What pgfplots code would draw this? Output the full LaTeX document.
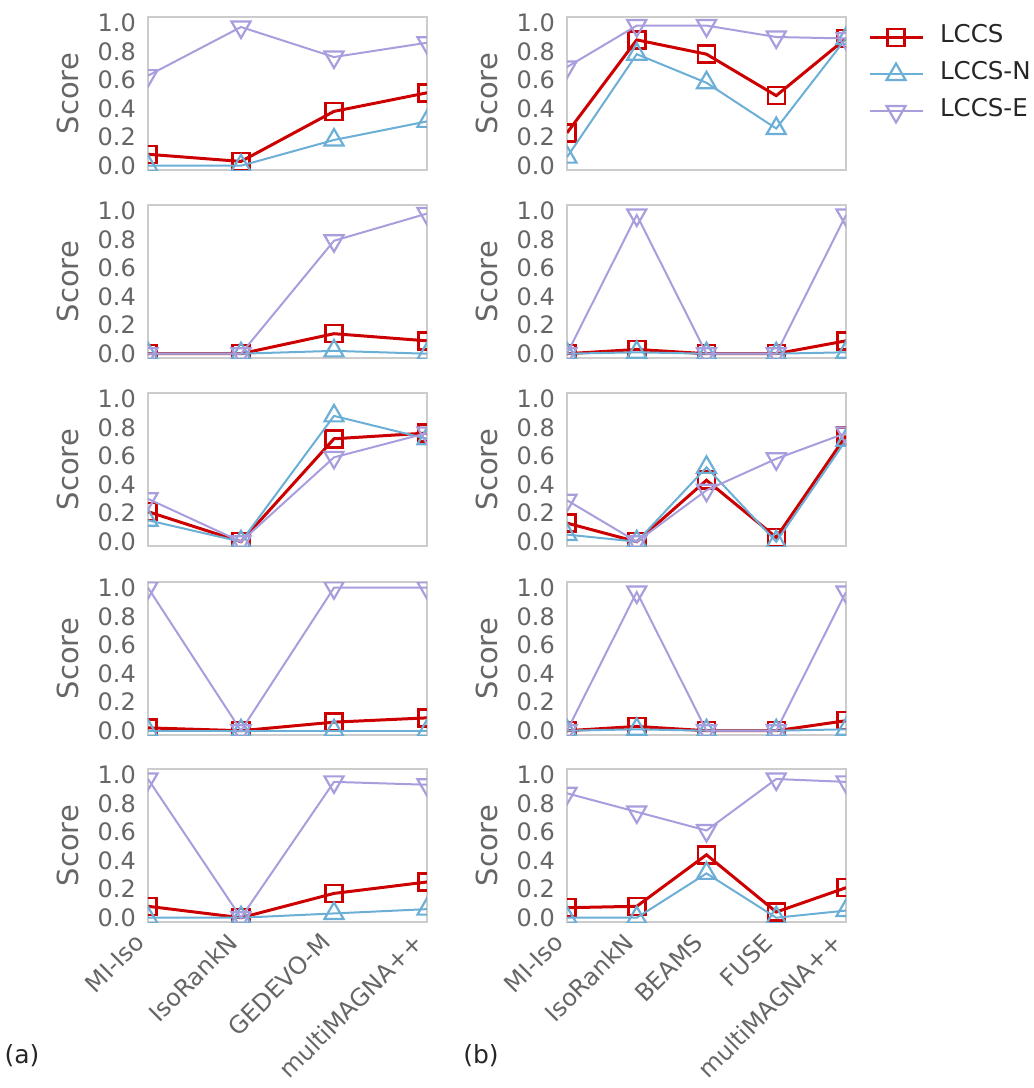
\documentclass[border=0pt]{standalone}
\usepackage{fontspec}
\setmainfont{DejaVu Sans}
\usepackage{pgfplots}
\usepackage{pgfplotstable}
\pgfplotsset{compat=1.18}

\definecolor{cL}{RGB}{204,0,0}
\definecolor{cN}{RGB}{107,174,214}
\definecolor{cE}{RGB}{168,158,222}
\definecolor{framec}{RGB}{204,204,204}
\definecolor{tickc}{RGB}{102,102,102}
\definecolor{textc}{RGB}{38,38,38}

% left column: MI-Iso, IsoRankN, GEDEVO-M, multiMAGNA++
\pgfplotstableread{
x lccs lccsn lccse
0 0.08 0.00 0.63
1 0.03 0.00 0.97
2 0.38 0.18 0.76
3 0.51 0.31 0.86
}\La
\pgfplotstableread{
x lccs lccsn lccse
0 0.00 0.00 0.00
1 0.00 0.00 0.00
2 0.14 0.02 0.79
3 0.09 0.00 0.98
}\Lb
\pgfplotstableread{
x lccs lccsn lccse
0 0.21 0.15 0.30
1 0.00 0.00 0.00
2 0.72 0.88 0.59
3 0.76 0.72 0.76
}\Lc
\pgfplotstableread{
x lccs lccsn lccse
0 0.02 0.00 1.00
1 0.00 0.00 0.00
2 0.06 0.00 1.00
3 0.09 0.00 1.00
}\Ld
\pgfplotstableread{
x lccs lccsn lccse
0 0.08 0.00 0.97
1 0.00 0.00 0.00
2 0.17 0.03 0.95
3 0.25 0.06 0.93
}\Le
% right column: MI-Iso, IsoRankN, BEAMS, FUSE, multiMAGNA++
\pgfplotstableread{
x lccs lccsn lccse
0 0.23 0.06 0.69
1 0.88 0.78 0.98
2 0.78 0.58 0.98
3 0.49 0.26 0.90
4 0.89 0.89 0.89
}\Ra
\pgfplotstableread{
x lccs lccsn lccse
0 0.00 0.00 0.00
1 0.03 0.01 0.97
2 0.00 0.00 0.00
3 0.00 0.00 0.00
4 0.09 0.01 0.97
}\Rb
\pgfplotstableread{
x lccs lccsn lccse
0 0.13 0.05 0.29
1 0.00 0.00 0.00
2 0.43 0.52 0.36
3 0.03 0.00 0.58
4 0.74 0.71 0.76
}\Rc
\pgfplotstableread{
x lccs lccsn lccse
0 0.00 0.00 0.00
1 0.03 0.01 0.97
2 0.00 0.00 0.00
3 0.00 0.00 0.00
4 0.07 0.01 0.97
}\Rd
\pgfplotstableread{
x lccs lccsn lccse
0 0.07 0.00 0.87
1 0.08 0.00 0.74
2 0.44 0.31 0.61
3 0.04 0.00 0.97
4 0.21 0.05 0.95
}\Re

\pgfplotsset{
  panel/.style={
    scale only axis, width=279pt, height=153pt, anchor=north west,
    ymin=-0.03, ymax=1.04, ytick={0,0.2,0.4,0.6,0.8,1.0},
    /pgf/number format/assume math mode=true,
    yticklabel style={/pgf/number format/fixed, /pgf/number format/fixed zerofill,
      /pgf/number format/precision=1, inner sep=0pt, xshift=-12pt},
    tick label style={font=\fontsize{24}{28}\selectfont, text=tickc},
    major tick length=0pt,
    axis line style={framec, line width=2.5pt},
    ylabel={Score},
    ylabel style={font=\fontsize{29}{32}\selectfont, text=tickc,
      at={(axis description cs:-0.287,0.5)}, anchor=center},
    clip marker paths=true,
  },
  leftcol/.style={panel, xmin=0, xmax=3, xtick={0,1,2,3}, xticklabels={}},
  rightcol/.style={panel, xmin=0, xmax=4, xtick={0,1,2,3,4}, xticklabels={}},
  rotlab/.style={x tick label style={inner sep=0pt, xshift=-8pt, yshift=-16pt, rotate=45, anchor=east}},
  sL/.style={cL, line width=3pt, mark=square, mark size=8.5pt, mark options={line width=2.5pt}},
  sN/.style={cN, line width=2pt, mark=triangle, mark size=11pt, mark options={line width=2.2pt}},
  sE/.style={cE, line width=2pt, mark=triangle, mark size=11pt, mark options={rotate=180, line width=2.2pt}},
}

\newcommand{\three}[1]{%
  \addplot[sL] table[x=x,y=lccs]{#1};
  \addplot[sN] table[x=x,y=lccsn]{#1};
  \addplot[sE] table[x=x,y=lccse]{#1};
}

\begin{document}
\begin{tikzpicture}
\path[use as bounding box] (0pt,0pt) rectangle (1034pt,-1088pt);

\begin{axis}[leftcol, at={(148pt,-17pt)}]
\three{\La}
\end{axis}
\begin{axis}[leftcol, at={(148pt,-205pt)}]
\three{\Lb}
\end{axis}
\begin{axis}[leftcol, at={(148pt,-393pt)}]
\three{\Lc}
\end{axis}
\begin{axis}[leftcol, at={(148pt,-582pt)}]
\three{\Ld}
\end{axis}
\begin{axis}[leftcol, at={(148pt,-769pt)}, rotlab,
  xticklabels={MI-Iso,IsoRankN,GEDEVO-M,multiMAGNA++}]
\three{\Le}
\end{axis}

\begin{axis}[rightcol, at={(567pt,-17pt)},
  legend style={at={(rel axis cs:1.079,0.987)}, anchor=north west, draw=none, fill=none,
    inner sep=0pt, outer sep=0pt, row sep=0pt,
    font=\fontsize{24.5}{28}\selectfont, text=textc,
    nodes={inner sep=0pt, text height=24pt, text depth=13pt}},
  legend cell align=left,
  legend image code/.code={%
    \draw[mark repeat=2, mark phase=2, #1] plot coordinates {(0pt,0pt) (26.5pt,0pt) (53pt,0pt)};
    \path (69pt,0pt);}]
\three{\Ra}
\legend{LCCS,LCCS-N,LCCS-E}
\end{axis}
\begin{axis}[rightcol, at={(567pt,-205pt)}]
\three{\Rb}
\end{axis}
\begin{axis}[rightcol, at={(567pt,-393pt)}]
\three{\Rc}
\end{axis}
\begin{axis}[rightcol, at={(567pt,-582pt)}]
\three{\Rd}
\end{axis}
\begin{axis}[rightcol, at={(567pt,-769pt)}, rotlab,
  xticklabels={MI-Iso,IsoRankN,BEAMS,FUSE,multiMAGNA++}]
\three{\Re}
\end{axis}

\node[font=\fontsize{25}{30}\selectfont, text=textc] at (22pt,-1056pt) {(a)};
\node[font=\fontsize{25}{30}\selectfont, text=textc] at (481pt,-1056pt) {(b)};
\end{tikzpicture}
\end{document}
